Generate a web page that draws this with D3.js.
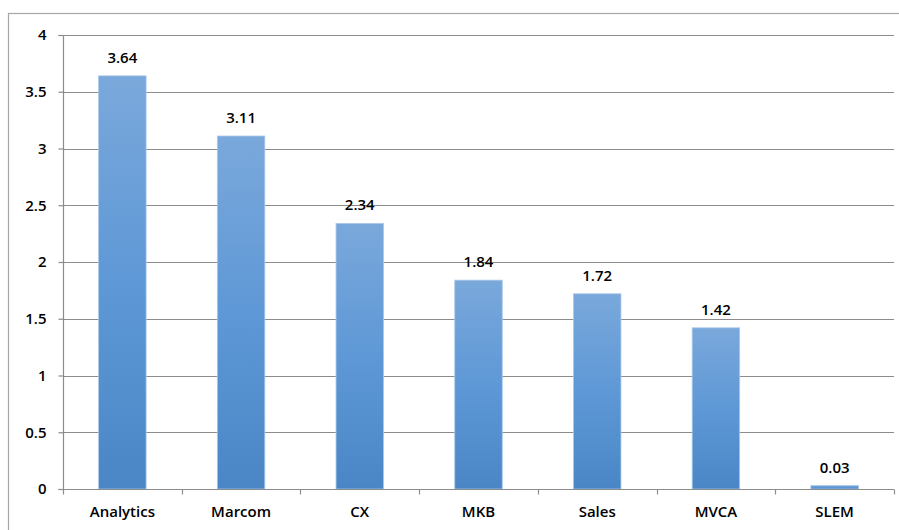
<!DOCTYPE html>
<html>
<head>
<meta charset="utf-8">
<script src="https://cdn.jsdelivr.net/npm/d3@7"></script>
<style>
  html, body { margin: 0; padding: 0; background: #fff; }
  svg { display: block; }
  text { font-family: "Open Sans", "Liberation Sans", sans-serif; fill: #000; font-weight: 600; }
</style>
</head>
<body>
<svg id="chart" width="899" height="530"></svg>
<script>
// Scores per team
const categories = ["Analytics", "Marcom", "CX", "MKB", "Sales", "MVCA", "SLEM"];
const values = [3.64, 3.11, 2.34, 1.84, 1.72, 1.42, 0.03];
const yTicks = [0, 0.5, 1, 1.5, 2, 2.5, 3, 3.5, 4];
const yTickLabels = ["0", "0.5", "1", "1.5", "2", "2.5", "3", "3.5", "4"];

const W = 899, H = 530;
const plot = { left: 63, right: 894, top: 35, bottom: 489 };
const FS = 15;

const svg = d3.select("#chart");

// gradient fill for the columns: light at top, deeper blue at base
const defs = svg.append("defs");
const grad = defs.append("linearGradient")
  .attr("id", "barFill").attr("x1", 0).attr("y1", 0).attr("x2", 0).attr("y2", 1);
grad.append("stop").attr("offset", "0%").attr("stop-color", "#7AA8DB");
grad.append("stop").attr("offset", "50%").attr("stop-color", "#5E98D6");
grad.append("stop").attr("offset", "100%").attr("stop-color", "#4A86C6");

// outer chart frame
svg.append("rect")
  .attr("x", 8.5).attr("y", 13.5)
  .attr("width", W + 20).attr("height", H + 20)
  .attr("fill", "none").attr("stroke", "#A6A6A6").attr("stroke-width", 1.2);

const x = d3.scaleBand()
  .domain(categories)
  .range([plot.left, plot.right])
  .paddingInner(0.6)
  .paddingOuter(0.3);

const y = d3.scaleLinear().domain([0, 4]).range([plot.bottom, plot.top]);

// horizontal gridlines
svg.append("g")
  .selectAll("line")
  .data(yTicks.filter(t => t > 0))
  .join("line")
  .attr("x1", plot.left).attr("x2", plot.right)
  .attr("y1", d => Math.round(y(d)) + 0.5).attr("y2", d => Math.round(y(d)) + 0.5)
  .attr("stroke", "#8C8C8C").attr("stroke-width", 1.2);

// y axis
const yAxis = d3.axisLeft(y)
  .tickValues(yTicks)
  .tickFormat((d, i) => yTickLabels[i])
  .tickSize(5)
  .tickPadding(12);
const gy = svg.append("g")
  .attr("transform", `translate(${plot.left + 0.5},0)`)
  .call(yAxis);
gy.select(".domain").attr("stroke", "#8C8C8C").attr("stroke-width", 1.2)
  .attr("d", `M-5,${plot.top + 0.5}H0V${plot.bottom + 0.5}H-5`);
gy.selectAll(".tick line").attr("stroke", "#8C8C8C").attr("stroke-width", 1.2);
gy.selectAll(".tick text").attr("font-size", FS)
  .style("font-family", "Open Sans, sans-serif").style("font-weight", 600).attr("fill", "#000");

// columns
svg.append("g")
  .selectAll("rect")
  .data(values)
  .join("rect")
  .attr("x", (d, i) => x(categories[i]))
  .attr("width", x.bandwidth())
  .attr("y", d => y(d))
  .attr("height", d => y(0) - y(d))
  .attr("fill", "url(#barFill)")
  .attr("stroke", "#A9C8EA").attr("stroke-width", 0.8);

// value labels above columns
svg.append("g")
  .selectAll("text")
  .data(values)
  .join("text")
  .attr("x", (d, i) => x(categories[i]) + x.bandwidth() / 2)
  .attr("y", d => y(d) - 13)
  .attr("text-anchor", "middle")
  .attr("font-size", FS)
  .text(d => d.toFixed(2));

// x axis
const step = (plot.right - plot.left) / categories.length;
const gx = svg.append("g").attr("transform", `translate(0,${plot.bottom + 0.5})`);
gx.append("line")
  .attr("x1", plot.left).attr("x2", plot.right)
  .attr("stroke", "#8C8C8C").attr("stroke-width", 1.2);
gx.selectAll("line.tk")
  .data(d3.range(categories.length + 1))
  .join("line").attr("class", "tk")
  .attr("x1", i => Math.round(plot.left + i * step) + 0.5)
  .attr("x2", i => Math.round(plot.left + i * step) + 0.5)
  .attr("y1", 0).attr("y2", 5)
  .attr("stroke", "#8C8C8C").attr("stroke-width", 1.2);
gx.selectAll("text")
  .data(categories)
  .join("text")
  .attr("x", d => x(d) + x.bandwidth() / 2)
  .attr("y", 27)
  .attr("text-anchor", "middle")
  .attr("font-size", FS)
  .text(d => d);
</script>
</body>
</html>
